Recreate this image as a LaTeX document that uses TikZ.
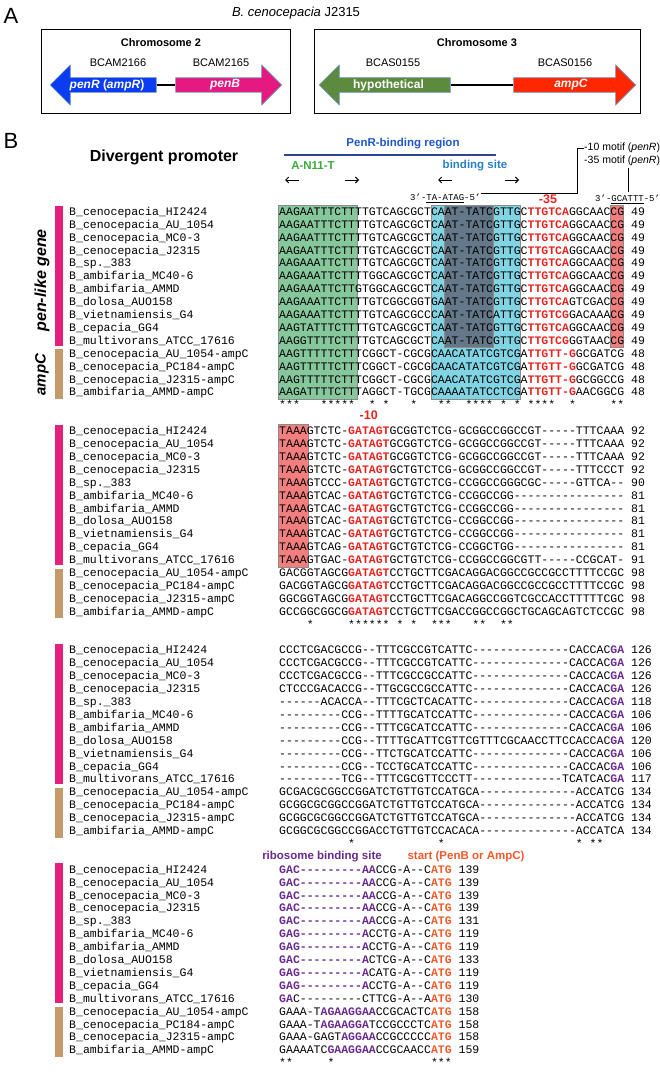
\documentclass[tikz,border=0pt]{standalone}
\usepackage{fontspec}
\setmainfont{Liberation Sans}
\setmonofont{Liberation Mono}
\usetikzlibrary{shapes.arrows,arrows.meta}
\definecolor{penRblue}{HTML}{0A3CF2}
\definecolor{penBpink}{HTML}{E5197F}
\definecolor{hypgreen}{HTML}{5C8B3F}
\definecolor{ampCred}{HTML}{FF2600}
\definecolor{arrowedge}{HTML}{7094BC}
\definecolor{barpink}{HTML}{E51F7B}
\definecolor{bartan}{HTML}{C49A6A}
\definecolor{boxgreen}{HTML}{86C79C}
\definecolor{boxblue}{HTML}{80D4E4}
\definecolor{boxdark}{HTML}{647889}
\definecolor{boxred}{HTML}{F27E7E}
\definecolor{boxedge}{HTML}{8C8C8C}
\definecolor{seqred}{HTML}{E8231F}
\definecolor{rbspurple}{HTML}{6A2A8E}
\definecolor{startorange}{HTML}{F2592A}
\definecolor{labelblue}{HTML}{1F58C8}
\definecolor{linenavy}{HTML}{2E4594}
\definecolor{antgreen}{HTML}{3BAA3B}
\definecolor{bsblue}{HTML}{2A80C8}
\newcommand\cR[1]{{\color{seqred}\bfseries #1}}
\newcommand\cP[1]{{\color{rbspurple}\bfseries #1}}
\newcommand\cO[1]{{\color{startorange}\bfseries #1}}
\newcommand\fs[1]{\fontsize{#1}{#1}\selectfont}
\newcommand\sqf{\ttfamily\fontsize{11.5}{13}\selectfont}
\def\xs{279}
\def\xn{69}
\def\cw{6.9}
\def\rs{12.9}
\def\bl{3.3}
\def\bA{212}
\def\bB{431.3}
\def\bC{650.6}
\def\bD{869.9}
\begin{document}
\begin{tikzpicture}[x=1pt,y=-1pt,
  namet/.style={anchor=base west,inner sep=0pt,font=\sqf},
  seqt/.style={anchor=base west,inner sep=0pt,font=\sqf},
  annot/.style={inner sep=0pt,font=\ttfamily\fs{9}},
  lbl/.style={inner sep=0pt},
  chrbox/.style={draw=black,line width=0.8pt,inner sep=0pt},
  genearrow/.style={single arrow,draw=arrowedge,line width=0.6pt,single arrow head extend=10pt,single arrow tip angle=90,minimum width=40pt,inner sep=0pt,text=white,font=\bfseries\fs{12}},
  leftarrow/.style={genearrow,shape border rotate=180},
  linker/.style={line width=2.6pt,black},
  gbox/.style={fill=boxgreen,draw=boxedge,line width=0.6pt},
  bbox/.style={fill=boxblue,draw=boxedge,line width=0.6pt},
  dbox/.style={fill=boxdark,draw=boxedge,line width=0.6pt},
  rbox/.style={fill=boxred,draw=boxedge,line width=0.6pt},
  dirarrow/.style={line width=0.9pt,-{Straight Barb[length=3pt,width=6pt]}},
  bracket/.style={line width=0.7pt,black}
]
\useasboundingbox (0,0) rectangle (660,1076);
% ---------------- Panel A ----------------
\node[lbl,font=\fs{22}] (labA) at (11,16) {A};
\node[lbl,font=\fs{13}] (title) at (296,13) {\textit{B. cenocepacia} J2315};
\node[chrbox,minimum width=249pt,minimum height=84pt] (box1) at (165.5,71) {};
\node[chrbox,minimum width=326pt,minimum height=84pt] (box2) at (477,71) {};
\node[lbl,font=\bfseries\fs{11}] (chr2) at (161,43) {Chromosome 2};
\node[lbl,font=\bfseries\fs{11}] (chr3) at (477,43) {Chromosome 3};
\node[lbl,font=\fs{11}] (g2166) at (118,63) {BCAM2166};
\node[lbl,font=\fs{11}] (g2165) at (221,63) {BCAM2165};
\node[lbl,font=\fs{11}] (g0155) at (393,63) {BCAS0155};
\node[lbl,font=\fs{11}] (g0156) at (565,63) {BCAS0156};
\node[leftarrow,fill=penRblue,minimum height=106pt] (penR) at (107,85) {\textit{penR} (\textit{ampR})};
\node[genearrow,fill=penBpink,minimum height=106pt] (penB) at (225,85) {\textit{penB}};
\node[leftarrow,fill=hypgreen,minimum height=131pt] (hyp) at (388.5,85) {hypothetical};
\node[genearrow,fill=ampCred,minimum height=122pt] (ampC) at (571,85) {\textit{ampC}};
\draw[linker] (penR.tail) -- (penB.tail);
\draw[linker] (hyp.tail) -- (ampC.tail);
% ---------------- Panel B header ----------------
\node[lbl,font=\fs{22}] (labB) at (11,141) {B};
\node[lbl,font=\bfseries\fs{16}] (divp) at (164,157) {Divergent promoter};
\node[lbl,font=\bfseries\fs{11.5},text=labelblue] (penrreg) at (403,144) {PenR-binding region};
\coordinate (regL) at (283.5,155);
\coordinate (regR) at (495.6,155);
\draw[linenavy,line width=1.6pt] (regL) -- (regR);
\node[lbl,font=\bfseries\fs{11.5},text=antgreen] (an11t) at (313,166) {A-N11-T};
\node[lbl,font=\bfseries\fs{11.5},text=bsblue] (bsite) at (475,166) {binding site};
\coordinate (a1s) at (299,180); \coordinate (a1e) at (285,180);
\coordinate (a2s) at (345,180); \coordinate (a2e) at (359,180);
\coordinate (a3s) at (452,180); \coordinate (a3e) at (438,180);
\coordinate (a4s) at (505,180); \coordinate (a4e) at (519,180);
\draw[dirarrow] (a1s) -- (a1e);
\draw[dirarrow] (a2s) -- (a2e);
\draw[dirarrow] (a3s) -- (a3e);
\draw[dirarrow] (a4s) -- (a4e);
\node[annot,anchor=west] (taata) at (410,198) {3’-\underline{TA-ATAG}-5’};
\node[lbl,font=\bfseries\fs{12.5},text=seqred] (m35lab) at (548,199) {-35};
\node[lbl,font=\fs{10.5},anchor=west] (m10) at (584,148) {-10 motif (\textit{penR})};
\node[lbl,font=\fs{10.5},anchor=west] (m35) at (584,161) {-35 motif (\textit{penR})};
\draw[bracket] (taata.east |- 0,193) -- (577,193) |- (m10.west);
\node[annot,anchor=west] (gcattt) at (595,199) {3’-\underline{GCATTT}-5’};
\coordinate (v35t) at (628,168);
\coordinate (v35b) at (628,192);
\draw[bracket] (v35t) -- (v35b);
% ---------------- coloured boxes ----------------
\filldraw[gbox] ({\xs-0.5},{\bA-6.7}) rectangle ({\xs+11.3*\cw},{\bA+14*\rs+6.7});
\filldraw[bbox] ({\xs+22*\cw},{\bA-6.7}) rectangle ({\xs+35*\cw},{\bA+14*\rs+6.7});
\filldraw[dbox] ({\xs+24*\cw},{\bA-6.7}) rectangle ({\xs+31*\cw},{\bA+10*\rs+6.7});
\filldraw[rbox] ({\xs+48*\cw},{\bA-6.7}) rectangle ({\xs+49.9*\cw},{\bA+10*\rs+6.7});
\filldraw[rbox] ({\xs-0.5},{\bB-6.7}) rectangle ({\xs+4.2*\cw},{\bB+10*\rs+6.7});
% ---------------- side bars ----------------
\foreach \by in {\bA,\bB,\bC,\bD}{
  \fill[barpink] (55,{\by-6.5}) rectangle (63,{\by+10*\rs+4.5});
  \fill[bartan] (55,{\by+11*\rs-4.5}) rectangle (63,{\by+14*\rs+6.5});
}
\node[lbl,font=\bfseries\itshape\fs{16},rotate=90] (penlike) at (42,{\bA+5.3*\rs}) {pen-like gene};
\node[lbl,font=\bfseries\itshape\fs{15},rotate=90] (ampclab) at (42,{\bA+12.6*\rs}) {ampC};
% ---------------- names ----------------
\foreach \by [count=\b] in {\bA,\bB,\bC,\bD}{
  \foreach \nm [count=\i from 0] in {B\_cenocepacia\_HI2424,B\_cenocepacia\_AU\_1054,B\_cenocepacia\_MC0-3,B\_cenocepacia\_J2315,B\_sp.\_383,B\_ambifaria\_MC40-6,B\_ambifaria\_AMMD,B\_dolosa\_AUO158,B\_vietnamiensis\_G4,B\_cepacia\_GG4,B\_multivorans\_ATCC\_17616,B\_cenocepacia\_AU\_1054-ampC,B\_cenocepacia\_PC184-ampC,B\_cenocepacia\_J2315-ampC,B\_ambifaria\_AMMD-ampC}{
    \node[namet] (n\b-\i) at (\xn,{\by+\i*\rs+\bl}) {\nm};
  }
}
% ---------------- block 1 ----------------
\node[seqt] (s1-0) at (\xs,{\bA+0*\rs+\bl}) {AAGAATTTCTTTTGTCAGCGCTCAAT-TATCGTTGC\cR{TTGTCA}GGCAACCG~49};
\node[seqt] (s1-1) at (\xs,{\bA+1*\rs+\bl}) {AAGAATTTCTTTTGTCAGCGCTCAAT-TATCGTTGC\cR{TTGTCA}GGCAACCG~49};
\node[seqt] (s1-2) at (\xs,{\bA+2*\rs+\bl}) {AAGAATTTCTTTTGTCAGCGCTCAAT-TATCGTTGC\cR{TTGTCA}GGCAACCG~49};
\node[seqt] (s1-3) at (\xs,{\bA+3*\rs+\bl}) {AAGAATTTCTTTTGTCAGCGCTCAAT-TATCGTTGC\cR{TTGTCA}GGCAACCG~49};
\node[seqt] (s1-4) at (\xs,{\bA+4*\rs+\bl}) {AAGAAATTCTTTTGTCAGCGCTCAAT-TATCGTTGC\cR{TTGTCA}GGCAACCG~49};
\node[seqt] (s1-5) at (\xs,{\bA+5*\rs+\bl}) {AAGAAATTCTTTTGGCAGCGCTCAAT-TATCGTTGC\cR{TTGTCA}GGCAACCG~49};
\node[seqt] (s1-6) at (\xs,{\bA+6*\rs+\bl}) {AAGAAATTCTTGTGGCAGCGCTCAAT-TATCGTTGC\cR{TTGTCA}GGCAACCG~49};
\node[seqt] (s1-7) at (\xs,{\bA+7*\rs+\bl}) {AAGAAATTCTTTTGTCGGCGGTGAAT-TATCGTTGC\cR{TTGTCA}GTCGACCG~49};
\node[seqt] (s1-8) at (\xs,{\bA+8*\rs+\bl}) {AAGAAATTCTTTTGTCAGCGCCCAAT-TATCATTGC\cR{TTGTCG}GACAAACG~49};
\node[seqt] (s1-9) at (\xs,{\bA+9*\rs+\bl}) {AAGTATTTCTTTTGTCAGCGCTCAAT-TATCGTTGC\cR{TTGTCA}GGCAACCG~49};
\node[seqt] (s1-10) at (\xs,{\bA+10*\rs+\bl}) {AAGGTTTTCTTTTGTCAGCGCTCAAT-TATCGTTGC\cR{TTGTCG}GGTAACCG~49};
\node[seqt] (s1-11) at (\xs,{\bA+11*\rs+\bl}) {AAGTTTTTCTTTCGGCT-CGCGCAACATATCGTCGA\cR{TTGTT-G}GCGATCG~48};
\node[seqt] (s1-12) at (\xs,{\bA+12*\rs+\bl}) {AAGTTTTTCTTTCGGCT-CGCGCAACATATCGTCGA\cR{TTGTT-G}GCGATCG~48};
\node[seqt] (s1-13) at (\xs,{\bA+13*\rs+\bl}) {AAGTTTTTCTTTCGGCT-CGCGCAACATATCGTCGA\cR{TTGTT-G}GCGGCCG~48};
\node[seqt] (s1-14) at (\xs,{\bA+14*\rs+\bl}) {AAGATTTTCTTTAGGCT-TGCGCAAAATATCCTCGA\cR{TTGTT-G}AACGGCG~48};
\foreach \c in {0,1,2,6,7,8,9,10,13,15,19,23,24,27,28,29,30,32,34,36,37,38,39,42,48,49}
  \node[seqt] (st1-\c) at ({\xs+\c*\cw},{\bA+15*\rs+\bl}) {*};
% ---------------- block 2 ----------------
\node[lbl,font=\bfseries\fs{12.5},text=seqred] (m10lab) at ({\xs+13*\cw},{\bB-16}) {-10};
\node[seqt] (s2-0) at (\xs,{\bB+0*\rs+\bl}) {TAAAGTCTC-\cR{GATAGT}GCGGTCTCG-GCGGCCGGCCGT-----TTTCAAA~92};
\node[seqt] (s2-1) at (\xs,{\bB+1*\rs+\bl}) {TAAAGTCTC-\cR{GATAGT}GCGGTCTCG-GCGGCCGGCCGT-----TTTCAAA~92};
\node[seqt] (s2-2) at (\xs,{\bB+2*\rs+\bl}) {TAAAGTCTC-\cR{GATAGT}GCGGTCTCG-GCGGCCGGCCGT-----TTTCAAA~92};
\node[seqt] (s2-3) at (\xs,{\bB+3*\rs+\bl}) {TAAAGTCTC-\cR{GATAGT}GCTGTCTCG-GCGGCCGGCCGT-----TTTCCCT~92};
\node[seqt] (s2-4) at (\xs,{\bB+4*\rs+\bl}) {TAAAGTCCC-\cR{GATAGT}GCTGTCTCG-CCGGCCGGGCGC-----GTTCA--~90};
\node[seqt] (s2-5) at (\xs,{\bB+5*\rs+\bl}) {TAAAGTCAC-\cR{GATAGT}GCTGTCTCG-CCGGCCGG----------------~81};
\node[seqt] (s2-6) at (\xs,{\bB+6*\rs+\bl}) {TAAAGTCAC-\cR{GATAGT}GCTGTCTCG-CCGGCCGG----------------~81};
\node[seqt] (s2-7) at (\xs,{\bB+7*\rs+\bl}) {TAAAGTCAC-\cR{GATAGT}GCTGTCTCG-CCGGCCGG----------------~81};
\node[seqt] (s2-8) at (\xs,{\bB+8*\rs+\bl}) {TAAAGTCAC-\cR{GATAGT}GCTGTCTCG-CCGGCCGG----------------~81};
\node[seqt] (s2-9) at (\xs,{\bB+9*\rs+\bl}) {TAAAGTCAG-\cR{GATAGT}GCTGTCTCG-CCGGCTGG----------------~81};
\node[seqt] (s2-10) at (\xs,{\bB+10*\rs+\bl}) {TAAAGTGAC-\cR{GATAGT}GCTGTCTCG-CCGGCCGGCGTT-----CCGCAT-~91};
\node[seqt] (s2-11) at (\xs,{\bB+11*\rs+\bl}) {GACGGTAGCG\cR{GATAGT}CCTGCTTCGACAGGACGGCCGCCGCCTTTTCCGC~98};
\node[seqt] (s2-12) at (\xs,{\bB+12*\rs+\bl}) {GACGGTAGCG\cR{GATAGT}CCTGCTTCGACAGGACGGCCGCCGCCTTTTCCGC~98};
\node[seqt] (s2-13) at (\xs,{\bB+13*\rs+\bl}) {GGCGGTAGCG\cR{GATAGT}CCTGCTTCGACAGGCCGGTCGCCACCTTTTTCGC~98};
\node[seqt] (s2-14) at (\xs,{\bB+14*\rs+\bl}) {GCCGGCGGCG\cR{GATAGT}CCTGCTTCGACCGGCCGGCTGCAGCAGTCTCCGC~98};
\foreach \c in {4,10,11,12,13,14,15,17,19,22,23,24,28,29,32,33}
  \node[seqt] (st2-\c) at ({\xs+\c*\cw},{\bB+15*\rs+\bl}) {*};
% ---------------- block 3 ----------------
\node[seqt] (s3-0) at (\xs,{\bC+0*\rs+\bl}) {CCCTCGACGCCG--TTTCGCCGTCATTC--------------CACCAC\cP{GA}~126};
\node[seqt] (s3-1) at (\xs,{\bC+1*\rs+\bl}) {CCCTCGACGCCG--TTTCGCCGTCATTC--------------CACCAC\cP{GA}~126};
\node[seqt] (s3-2) at (\xs,{\bC+2*\rs+\bl}) {CCCTCGACGCCG--TTTCGCCGCCATTC--------------CACCAC\cP{GA}~126};
\node[seqt] (s3-3) at (\xs,{\bC+3*\rs+\bl}) {CTCCCGACACCG--TTGCGCCGCCATTC--------------CACCAC\cP{GA}~126};
\node[seqt] (s3-4) at (\xs,{\bC+4*\rs+\bl}) {------ACACCA--TTTCGCTCACATTC--------------CACCAC\cP{GA}~118};
\node[seqt] (s3-5) at (\xs,{\bC+5*\rs+\bl}) {---------CCG--TTTTGCATCCATTC--------------CACCAC\cP{GA}~106};
\node[seqt] (s3-6) at (\xs,{\bC+6*\rs+\bl}) {---------CCG--TTTCGCATCCATTC--------------CACCAC\cP{GA}~106};
\node[seqt] (s3-7) at (\xs,{\bC+7*\rs+\bl}) {---------CCG--TTTTGCATTCGTTCGTTTCGCAACCTTCCACCAC\cP{GA}~120};
\node[seqt] (s3-8) at (\xs,{\bC+8*\rs+\bl}) {---------CCG--TTCTGCATCCATTC--------------CACCAC\cP{GA}~106};
\node[seqt] (s3-9) at (\xs,{\bC+9*\rs+\bl}) {---------CCG--TCCTGCATCCATTC--------------CACCAC\cP{GA}~106};
\node[seqt] (s3-10) at (\xs,{\bC+10*\rs+\bl}) {---------TCG--TTTCGCGTTCCCTT-------------TCATCAC\cP{GA}~117};
\node[seqt] (s3-11) at (\xs,{\bC+11*\rs+\bl}) {GCGACGCGGCCGGATCTGTTGTCCATGCA--------------ACCATCG~134};
\node[seqt] (s3-12) at (\xs,{\bC+12*\rs+\bl}) {GCGGCGCGGCCGGATCTGTTGTCCATGCA--------------ACCATCG~134};
\node[seqt] (s3-13) at (\xs,{\bC+13*\rs+\bl}) {GCGGCGCGGCCGGATCTGTTGTCCATGCA--------------ACCATCG~134};
\node[seqt] (s3-14) at (\xs,{\bC+14*\rs+\bl}) {GCGGCGCGGCCGGACCTGTTGTCCACACA--------------ACCATCA~134};
\foreach \c in {10,23,43,45,46}
  \node[seqt] (st3-\c) at ({\xs+\c*\cw},{\bC+15*\rs+\bl}) {*};
% ---------------- block 4 ----------------
\node[lbl,font=\bfseries\fs{11.5},text=rbspurple] (rbslab) at (322,{\bD-\rs}) {ribosome binding site};
\node[lbl,font=\bfseries\fs{11.5},text=startorange] (startlab) at (466,{\bD-\rs}) {start (PenB or AmpC)};
\node[seqt] (s4-0) at (\xs,{\bD+0*\rs+\bl}) {\cP{GAC---------AA}CCG-A--C\cO{ATG}~139};
\node[seqt] (s4-1) at (\xs,{\bD+1*\rs+\bl}) {\cP{GAC---------AA}CCG-A--C\cO{ATG}~139};
\node[seqt] (s4-2) at (\xs,{\bD+2*\rs+\bl}) {\cP{GAC---------AA}CCG-A--C\cO{ATG}~139};
\node[seqt] (s4-3) at (\xs,{\bD+3*\rs+\bl}) {\cP{GAC---------AA}CCG-A--C\cO{ATG}~139};
\node[seqt] (s4-4) at (\xs,{\bD+4*\rs+\bl}) {\cP{GAC---------AA}CCG-A--C\cO{ATG}~131};
\node[seqt] (s4-5) at (\xs,{\bD+5*\rs+\bl}) {\cP{GAG---------A}CCTG-A--C\cO{ATG}~119};
\node[seqt] (s4-6) at (\xs,{\bD+6*\rs+\bl}) {\cP{GAG---------A}CCTG-A--C\cO{ATG}~119};
\node[seqt] (s4-7) at (\xs,{\bD+7*\rs+\bl}) {\cP{GAC---------A}CTCG-A--C\cO{ATG}~133};
\node[seqt] (s4-8) at (\xs,{\bD+8*\rs+\bl}) {\cP{GAG---------A}CATG-A--C\cO{ATG}~119};
\node[seqt] (s4-9) at (\xs,{\bD+9*\rs+\bl}) {\cP{GAG---------A}CCTG-A--C\cO{ATG}~119};
\node[seqt] (s4-10) at (\xs,{\bD+10*\rs+\bl}) {\cP{GA}C---------CTTCG-A--A\cO{ATG}~130};
\node[seqt] (s4-11) at (\xs,{\bD+11*\rs+\bl}) {GAAA-T\cP{AGAAGGAA}CCGCACTC\cO{ATG}~158};
\node[seqt] (s4-12) at (\xs,{\bD+12*\rs+\bl}) {GAAA-T\cP{AGAAGGA}TCCGCCCTC\cO{ATG}~158};
\node[seqt] (s4-13) at (\xs,{\bD+13*\rs+\bl}) {GAAA-GAGT\cP{AGGAA}CCGCCCCC\cO{ATG}~158};
\node[seqt] (s4-14) at (\xs,{\bD+14*\rs+\bl}) {GAAAATC\cP{GAAGGAA}CCGCAACC\cO{ATG}~159};
\foreach \c in {0,1,7,22,23,24}
  \node[seqt] (st4-\c) at ({\xs+\c*\cw},{\bD+15*\rs+\bl}) {*};
\end{tikzpicture}
\end{document}
